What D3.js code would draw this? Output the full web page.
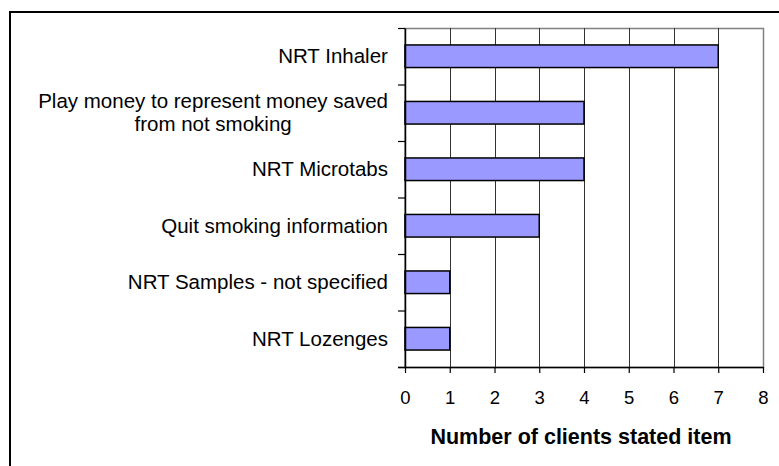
<!DOCTYPE html>
<html>
<head>
<meta charset="utf-8">
<script src="https://cdn.jsdelivr.net/npm/d3@7"></script>
<style>
  body { margin: 0; background: #fff; }
  text { font-family: "Liberation Sans", Arial, sans-serif; fill: #000; }
</style>
</head>
<body>
<div id="chart"></div>
<script>
// data, top to bottom
var categories = [
  "NRT Inhaler",
  "Play money to represent money saved from not smoking",
  "NRT Microtabs",
  "Quit smoking information",
  "NRT Samples - not specified",
  "NRT Lozenges"
];
var counts = [7, 4, 4, 3, 1, 1];
var xTicks = [0, 1, 2, 3, 4, 5, 6, 7, 8];
var xTitle = "Number of clients stated item";

// wrapped label lines for the long category
var labelLines = {
  "Play money to represent money saved from not smoking":
    ["Play money to represent money saved", "from not smoking"]
};

var width = 779, height = 466;
var plot = { left: 405, right: 763, top: 28, bottom: 367 };

var svg = d3.select("#chart")
  .append("svg")
  .attr("width", width)
  .attr("height", height);

// outer chart frame (runs off the right and bottom of the picture)
svg.append("rect")
  .attr("x", 10)
  .attr("y", 12)
  .attr("width", 820)
  .attr("height", 520)
  .attr("fill", "none")
  .attr("stroke", "#000")
  .attr("stroke-width", 2);

var x = d3.scaleLinear()
  .domain([0, 8])
  .range([plot.left, plot.right]);

var y = d3.scaleBand()
  .domain(categories)
  .range([plot.top, plot.bottom])
  .paddingInner(0.6)
  .paddingOuter(0.3);

// plot area border (grey)
svg.append("rect")
  .attr("x", plot.left)
  .attr("y", plot.top + 0.5)
  .attr("width", plot.right - plot.left + 0.5)
  .attr("height", plot.bottom - plot.top)
  .attr("fill", "none")
  .attr("stroke", "#808080")
  .attr("stroke-width", 1.5);

// vertical gridlines
svg.append("g")
  .selectAll("line")
  .data(xTicks.filter(function(d) { return d > 0 && d < 8; }))
  .enter()
  .append("line")
  .attr("x1", function(d) { return Math.round(x(d)) + 0.5; })
  .attr("x2", function(d) { return Math.round(x(d)) + 0.5; })
  .attr("y1", plot.top)
  .attr("y2", plot.bottom)
  .attr("stroke", "#333")
  .attr("stroke-width", 1);

// bars
svg.append("g")
  .selectAll("rect")
  .data(counts)
  .enter()
  .append("rect")
  .attr("x", x(0))
  .attr("y", function(d, i) { return y(categories[i]); })
  .attr("width", function(d) { return x(d) - x(0); })
  .attr("height", y.bandwidth())
  .attr("fill", "#9999ff")
  .attr("stroke", "#000")
  .attr("stroke-width", 1.5);

// y axis: ticks sit on the band boundaries
var yEdge = d3.scaleLinear()
  .domain([0, categories.length])
  .range([plot.top, plot.bottom]);

svg.append("g")
  .attr("transform", "translate(" + plot.left + ",0)")
  .call(d3.axisLeft(yEdge)
    .tickValues(d3.range(categories.length + 1))
    .tickSize(7)
    .tickSizeOuter(0)
    .tickFormat(""))
  .call(function(g) {
    g.selectAll("line").attr("stroke", "#000").attr("stroke-width", 1.2);
    g.select(".domain").attr("stroke", "#000").attr("stroke-width", 1.5);
  });

// category labels
var labels = svg.append("g")
  .selectAll("text")
  .data(categories)
  .enter()
  .append("text")
  .attr("text-anchor", "middle")
  .attr("font-size", "20.5px")
  .each(function(d) {
    var lines = labelLines[d] || [d];
    var t = d3.select(this);
    var cy = y(d) + y.bandwidth() / 2;
    var lh = 23;
    lines.forEach(function(line, i) {
      t.append("tspan")
        .attr("x", 0)
        .attr("y", cy + (i - (lines.length - 1) / 2) * lh)
        .attr("dy", "0.35em")
        .text(line);
    });
  });

// right-align each label block, centre its lines inside the block
labels.each(function() {
  var t = d3.select(this);
  var w = this.getBBox().width;
  var cx = plot.left - 17 - w / 2;
  t.selectAll("tspan").attr("x", cx);
});

// x axis
svg.append("g")
  .attr("transform", "translate(0," + plot.bottom + ")")
  .call(d3.axisBottom(x)
    .tickValues(xTicks)
    .tickSize(6)
    .tickSizeOuter(0)
    .tickPadding(18)
    .tickFormat(d3.format("d")))
  .call(function(g) {
    g.select(".domain")
      .attr("d", "M" + (plot.left - 7) + ",0.5H" + plot.right)
      .attr("stroke", "#000")
      .attr("stroke-width", 1.5);
    g.selectAll("line").attr("stroke", "#000").attr("stroke-width", 1.2);
    g.selectAll("text")
      .attr("font-size", "18.5px")
      .attr("font-family", "Liberation Sans, Arial, sans-serif")
      .attr("fill", "#000");
  });

// x axis title
svg.append("text")
  .attr("x", (plot.left + plot.right) / 2 - 3)
  .attr("y", 444)
  .attr("text-anchor", "middle")
  .attr("font-size", "21.5px")
  .attr("font-weight", "bold")
  .text(xTitle);
</script>
</body>
</html>
